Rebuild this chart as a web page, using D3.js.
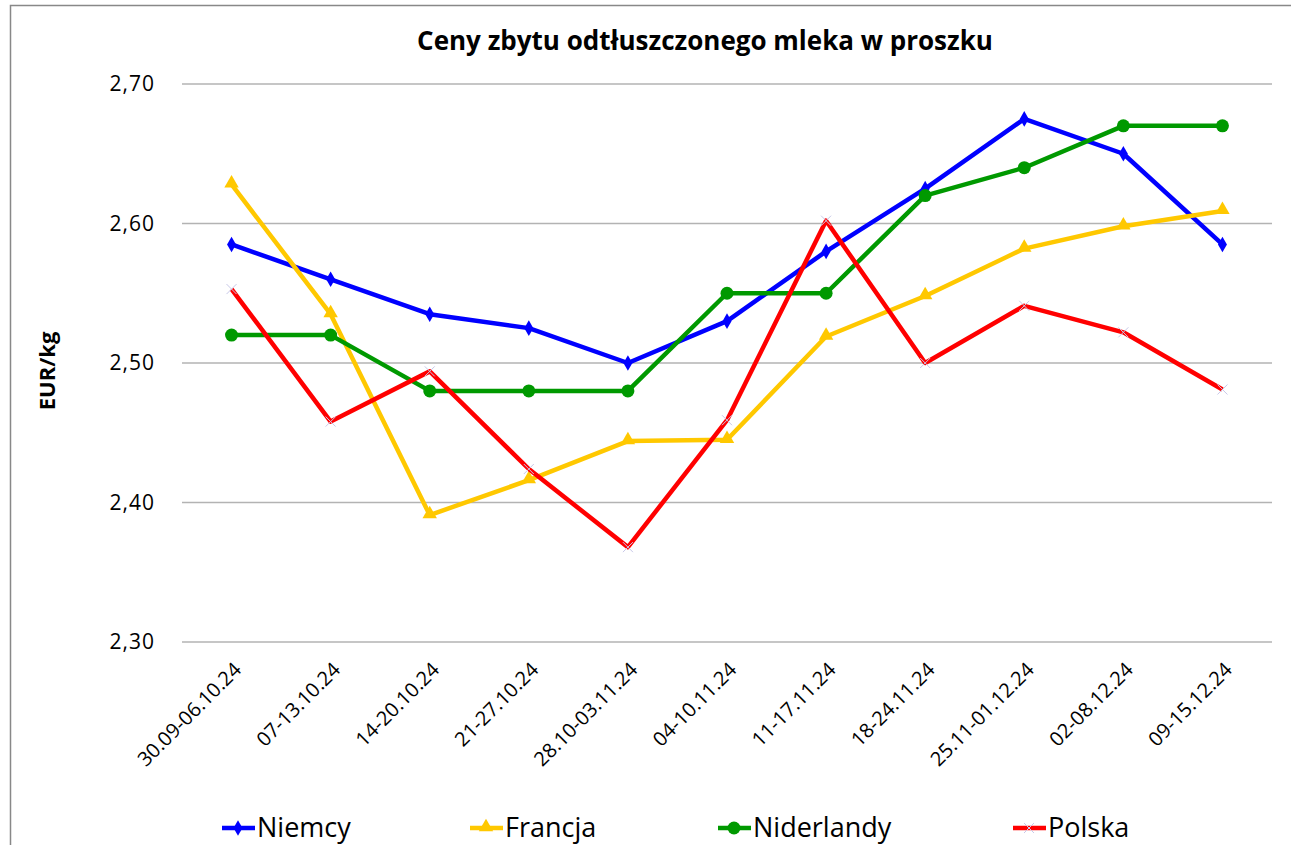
<!DOCTYPE html>
<html>
<head>
<meta charset="utf-8">
<script src="https://cdn.jsdelivr.net/npm/d3@7"></script>
<style>
  body { margin: 0; background: #fff; }
  text { font-family: "Open Sans", Lato, sans-serif; }
</style>
</head>
<body>
<div class="chart"></div>
<script>
// data
const weeks = ["30.09-06.10.24", "07-13.10.24", "14-20.10.24", "21-27.10.24", "28.10-03.11.24",
  "04-10.11.24", "11-17.11.24", "18-24.11.24", "25.11-01.12.24", "02-08.12.24", "09-15.12.24"];
const niemcy = [2.585, 2.56, 2.535, 2.525, 2.50, 2.53, 2.58, 2.625, 2.675, 2.65, 2.585];
const francja = [2.628, 2.535, 2.391, 2.416, 2.444, 2.445, 2.519, 2.548, 2.582, 2.598, 2.609];
const niderlandy = [2.52, 2.52, 2.48, 2.48, 2.48, 2.55, 2.55, 2.62, 2.64, 2.67, 2.67];
const polska = [2.553, 2.458, 2.494, 2.424, 2.368, 2.459, 2.602, 2.50, 2.541, 2.522, 2.481];
const yTicks = [2.30, 2.40, 2.50, 2.60, 2.70];

const series = [
  {name: "Niemcy", values: niemcy, color: "#0000ff", marker: "diamond"},
  {name: "Francja", values: francja, color: "#ffc800", marker: "triangle"},
  {name: "Niderlandy", values: niderlandy, color: "#009900", marker: "circle"},
  {name: "Polska", values: polska, color: "#ff0000", marker: "x"}
];

let svgWidth = 1291;
let svgHeight = 845;
let margin = {top: 84, right: 19, bottom: 203, left: 182};
let width = svgWidth - margin.left - margin.right;
let height = svgHeight - margin.top - margin.bottom;

let svg = d3.select(".chart").append("svg")
  .attr("width", svgWidth)
  .attr("height", svgHeight);

// outer chart border
svg.append("rect")
  .attr("x", 10.5).attr("y", 5.5)
  .attr("width", 1300).attr("height", 900)
  .attr("fill", "none").attr("stroke", "#888").attr("stroke-width", 1.5);

let chartGroup = svg.append("g")
  .attr("transform", `translate(${margin.left}, ${margin.top})`);

let x = d3.scaleBand().domain(weeks).range([0, width]);
let y = d3.scaleLinear().domain([2.30, 2.70]).range([height, 0]);
let cx = d => x(d) + x.bandwidth() / 2;

// gridlines
chartGroup.append("g")
  .selectAll("line")
  .data(yTicks)
  .enter()
  .append("line")
  .attr("x1", 0).attr("x2", width)
  .attr("y1", d => y(d)).attr("y2", d => y(d))
  .attr("stroke", "#b3b3b3").attr("stroke-width", 1.5);

// y axis labels
let leftAxis = d3.axisLeft(y).tickValues(yTicks).tickSize(0).tickPadding(27)
  .tickFormat(d => d3.format(".2f")(d).replace(".", ","));
let yAxisG = chartGroup.append("g").call(leftAxis);
yAxisG.select(".domain").remove();
yAxisG.selectAll("text").attr("font-size", "21px").attr("fill", "#000")
  .attr("letter-spacing", "1px");

// x axis labels
let bottomAxis = d3.axisBottom(x).tickSize(0).tickPadding(0);
let xAxisG = chartGroup.append("g")
  .attr("transform", `translate(0, ${height})`)
  .call(bottomAxis);
xAxisG.select(".domain").remove();
xAxisG.selectAll("text")
  .attr("font-size", "20px").attr("fill", "#000")
  .attr("text-anchor", "end")
  .attr("transform", "translate(6, 24) rotate(-45)")
  .attr("dy", "0.35em").attr("y", 0).attr("x", 0);

// lines
let line = d3.line().x((d, i) => cx(weeks[i])).y(d => y(d));

function drawMarker(g, type, color, px, py) {
  if (type === "diamond") {
    g.append("path").attr("d", d3.symbol(d3.symbolDiamond, 70)())
      .attr("transform", `translate(${px},${py})`).attr("fill", color);
  } else if (type === "triangle") {
    g.append("path").attr("d", d3.symbol(d3.symbolTriangle, 90)())
      .attr("transform", `translate(${px},${py - 1})`).attr("fill", color);
  } else if (type === "circle") {
    g.append("circle").attr("cx", px).attr("cy", py).attr("r", 6.5).attr("fill", color);
  } else {
    g.append("path").attr("d", "M-5,-5L5,5M-5,5L5,-5")
      .attr("transform", `translate(${px},${py})`)
      .attr("stroke", "#c8c8e8").attr("stroke-width", 1).attr("fill", "none");
  }
}

series.forEach(s => {
  let g = chartGroup.append("g");
  g.append("path")
    .datum(s.values)
    .attr("d", line)
    .attr("fill", "none")
    .attr("stroke", s.color)
    .attr("stroke-width", 4.5)
    .attr("stroke-linejoin", "round");
  s.values.forEach((v, i) => drawMarker(g, s.marker, s.color, cx(weeks[i]), y(v)));
});

// title
svg.append("text")
  .attr("x", 705).attr("y", 50)
  .attr("text-anchor", "middle")
  .attr("font-size", "26px").attr("font-weight", "bold")
  .text("Ceny zbytu odtłuszczonego mleka w proszku");

// y axis title
svg.append("text")
  .attr("transform", "translate(55, 371) rotate(-90)")
  .attr("text-anchor", "middle")
  .attr("font-size", "22px").attr("font-weight", "bold")
  .text("EUR/kg");

// legend
let legendX = [222, 470, 718, 1013];
let legend = svg.append("g");
series.forEach((s, i) => {
  let lx = legendX[i], ly = 828;
  legend.append("line")
    .attr("x1", lx).attr("x2", lx + 33).attr("y1", ly).attr("y2", ly)
    .attr("stroke", s.color).attr("stroke-width", 4.5);
  drawMarker(legend, s.marker, s.color, lx + 16, ly);
  legend.append("text")
    .attr("x", lx + 35).attr("y", 837)
    .attr("font-size", "27px")
    .text(s.name);
});
</script>
</body>
</html>
